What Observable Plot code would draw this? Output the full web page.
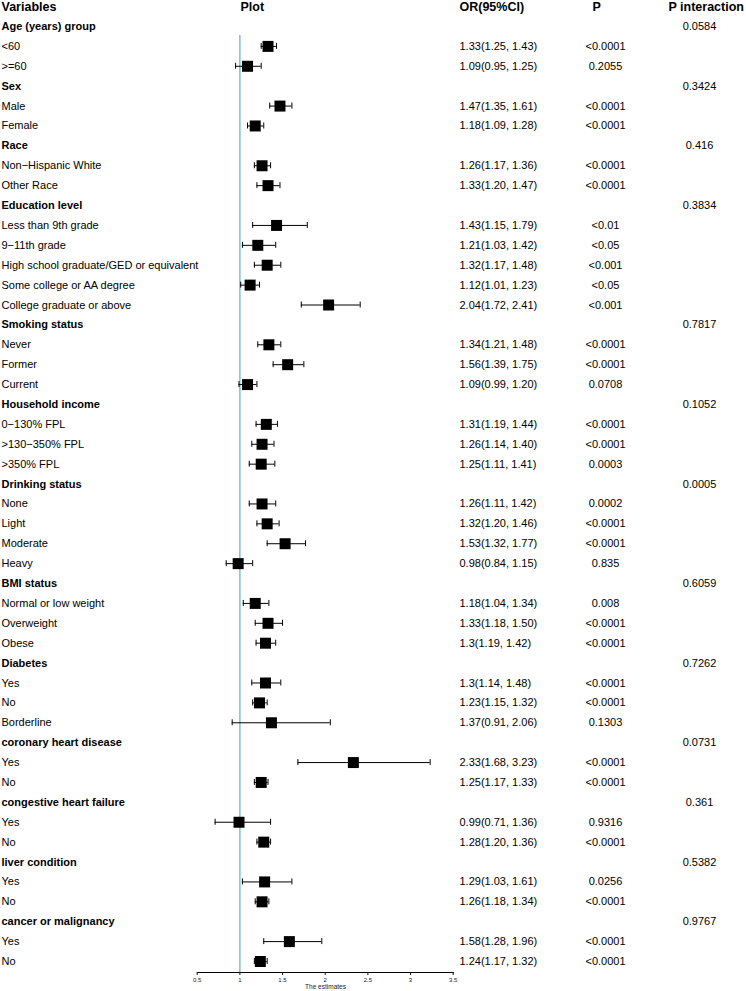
<!DOCTYPE html>
<html>
<head>
<meta charset="utf-8">
<script src="https://cdn.jsdelivr.net/npm/d3@7"></script>
<script src="https://cdn.jsdelivr.net/npm/@observablehq/plot@0.6"></script>
<style>
  html, body { margin: 0; padding: 0; background: #fff; }
  #chart svg { display: block; }
</style>
</head>
<body>
<div id="chart"></div>
<script>
// ---- data ----
const labels = ["Age (years) group","<60",">=60","Sex","Male","Female","Race","Non\u2212Hispanic White","Other Race",
  "Education level","Less than 9th grade","9\u221211th grade","High school graduate/GED or equivalent","Some college or AA degree","College graduate or above",
  "Smoking status","Never","Former","Current","Household income","0\u2212130% FPL",">130\u2212350% FPL",">350% FPL",
  "Drinking status","None","Light","Moderate","Heavy","BMI status","Normal or low weight","Overweight","Obese",
  "Diabetes","Yes","No","Borderline","coronary heart disease","Yes","No","congestive heart failure","Yes","No",
  "liver condition","Yes","No","cancer or malignancy","Yes","No"];
const isGroup = [1,0,0,1,0,0,1,0,0,1,0,0,0,0,0,1,0,0,0,1,0,0,0,1,0,0,0,0,1,0,0,0,1,0,0,0,1,0,0,1,0,0,1,0,0,1,0,0];
const est = [null,1.33,1.09,null,1.47,1.18,null,1.26,1.33,null,1.43,1.21,1.32,1.12,2.04,null,1.34,1.56,1.09,null,1.31,1.26,1.25,
  null,1.26,1.32,1.53,0.98,null,1.18,1.33,1.3,null,1.3,1.23,1.37,null,2.33,1.25,null,0.99,1.28,null,1.29,1.26,null,1.58,1.24];
const lower = [null,1.25,0.95,null,1.35,1.09,null,1.17,1.20,null,1.15,1.03,1.17,1.01,1.72,null,1.21,1.39,0.99,null,1.19,1.14,1.11,
  null,1.11,1.20,1.32,0.84,null,1.04,1.18,1.19,null,1.14,1.15,0.91,null,1.68,1.17,null,0.71,1.20,null,1.03,1.18,null,1.28,1.17];
const upper = [null,1.43,1.25,null,1.61,1.28,null,1.36,1.47,null,1.79,1.42,1.48,1.23,2.41,null,1.48,1.75,1.20,null,1.44,1.40,1.41,
  null,1.42,1.46,1.77,1.15,null,1.34,1.50,1.42,null,1.48,1.32,2.06,null,3.23,1.33,null,1.36,1.36,null,1.61,1.34,null,1.96,1.32];
const orText = ["","1.33(1.25, 1.43)","1.09(0.95, 1.25)","","1.47(1.35, 1.61)","1.18(1.09, 1.28)","","1.26(1.17, 1.36)","1.33(1.20, 1.47)",
  "","1.43(1.15, 1.79)","1.21(1.03, 1.42)","1.32(1.17, 1.48)","1.12(1.01, 1.23)","2.04(1.72, 2.41)","","1.34(1.21, 1.48)","1.56(1.39, 1.75)","1.09(0.99, 1.20)",
  "","1.31(1.19, 1.44)","1.26(1.14, 1.40)","1.25(1.11, 1.41)","","1.26(1.11, 1.42)","1.32(1.20, 1.46)","1.53(1.32, 1.77)","0.98(0.84, 1.15)",
  "","1.18(1.04, 1.34)","1.33(1.18, 1.50)","1.3(1.19, 1.42)","","1.3(1.14, 1.48)","1.23(1.15, 1.32)","1.37(0.91, 2.06)",
  "","2.33(1.68, 3.23)","1.25(1.17, 1.33)","","0.99(0.71, 1.36)","1.28(1.20, 1.36)","","1.29(1.03, 1.61)","1.26(1.18, 1.34)",
  "","1.58(1.28, 1.96)","1.24(1.17, 1.32)"];
const pText = ["","<0.0001","0.2055","","<0.0001","<0.0001","","<0.0001","<0.0001","","<0.01","<0.05","<0.001","<0.05","<0.001",
  "","<0.0001","<0.0001","0.0708","","<0.0001","<0.0001","0.0003","","0.0002","<0.0001","<0.0001","0.835",
  "","0.008","<0.0001","<0.0001","","<0.0001","<0.0001","0.1303","","<0.0001","<0.0001","","0.9316","<0.0001",
  "","0.0256","<0.0001","","<0.0001","<0.0001"];
const pInter = ["0.0584","","","0.3424","","","0.416","","","0.3834","","","","","","0.7817","","","","0.1052","","","",
  "0.0005","","","","","0.6059","","","","0.7262","","","","0.0731","","","0.361","","","0.5382","","","0.9767","",""];
const headers = ["Variables","Plot","OR(95%CI)","P","P interaction"];
const xTicks = [0.5,1,1.5,2,2.5,3,3.5];
const refValue = 1;

// ---- table ----
const rows = labels.map((label, i) => ({
  i, label, group: !!isGroup[i], est: est[i], lo: lower[i], hi: upper[i],
  or: orText[i], p: pText[i], pint: pInter[i]
}));
const pts = rows.filter(d => d.est != null);
const groupRows = rows.filter(d => d.group);
const itemRows = rows.filter(d => !d.group);
const N = rows.length;

const font = "'Liberation Sans', Arial, Helvetica, sans-serif";
const headerRow = [{y: -1}];

const chart = Plot.plot({
  width: 746,
  height: 991,
  marginLeft: 197,
  marginRight: 293,
  marginTop: 35,
  marginBottom: 19,
  x: {domain: [0.5, 3.5], range: [196.7, 452.7]},
  y: {domain: [0, N - 1], range: [26, 961], axis: null},
  style: {fontFamily: font, background: "white", color: "black"},
  marks: [
    // reference line
    Plot.ruleX([refValue], {stroke: "#7fc7d1", strokeWidth: 1.6}),
    // axis line
    Plot.frame({anchor: "bottom", stroke: "black", strokeWidth: 1.1}),
    Plot.axisX({ticks: xTicks, tickSize: 3, tickPadding: 2, tickFormat: d => String(d),
      fontSize: 6, label: null, anchor: "bottom", color: "#222", strokeWidth: 1.1}),
    Plot.text(["The estimates"], {frameAnchor: "bottom", dy: 16.5, fontSize: 6.5, fill: "#222"}),
    // CI lines and caps
    Plot.ruleY(pts, {y: "i", x1: "lo", x2: "hi", stroke: "black", strokeWidth: 1}),
    Plot.ruleX(pts, {x: "lo", y1: "i", y2: "i", insetTop: -3, insetBottom: -3, stroke: "black", strokeWidth: 1}),
    Plot.ruleX(pts, {x: "hi", y1: "i", y2: "i", insetTop: -3, insetBottom: -3, stroke: "black", strokeWidth: 1}),
    // point estimates
    Plot.dot(pts, {x: "est", y: "i", symbol: "square", r: 6.2, fill: "black", stroke: "none"}),
    // column headers
    Plot.text(headerRow, {y: "y", text: () => headers[0], frameAnchor: "left", dx: -196, textAnchor: "start", fontWeight: "bold", fontSize: 12.5}),
    Plot.text(headerRow, {y: "y", text: () => headers[1], frameAnchor: "left", dx: 43, textAnchor: "start", fontWeight: "bold", fontSize: 12.5}),
    Plot.text(headerRow, {y: "y", text: () => headers[2], frameAnchor: "right", dx: 6, textAnchor: "start", fontWeight: "bold", fontSize: 12.5}),
    Plot.text(headerRow, {y: "y", text: () => headers[3], frameAnchor: "right", dx: 139, textAnchor: "start", fontWeight: "bold", fontSize: 12.5}),
    Plot.text(headerRow, {y: "y", text: () => headers[4], frameAnchor: "right", dx: 215, textAnchor: "start", fontWeight: "bold", fontSize: 12.5}),
    // row labels
    Plot.text(groupRows, {y: "i", text: "label", frameAnchor: "left", dx: -196, textAnchor: "start", fontSize: 11, fontWeight: "bold"}),
    Plot.text(itemRows, {y: "i", text: "label", frameAnchor: "left", dx: -196, textAnchor: "start", fontSize: 11}),
    // OR column
    Plot.text(itemRows, {y: "i", text: "or", frameAnchor: "right", dx: 6, textAnchor: "start", fontSize: 11}),
    // P column
    Plot.text(itemRows, {y: "i", text: "p", frameAnchor: "right", dx: 152, textAnchor: "middle", fontSize: 11}),
    // P interaction column
    Plot.text(groupRows, {y: "i", text: "pint", frameAnchor: "right", dx: 246, textAnchor: "middle", fontSize: 11})
  ]
});
document.getElementById("chart").appendChild(chart);
</script>
</body>
</html>
